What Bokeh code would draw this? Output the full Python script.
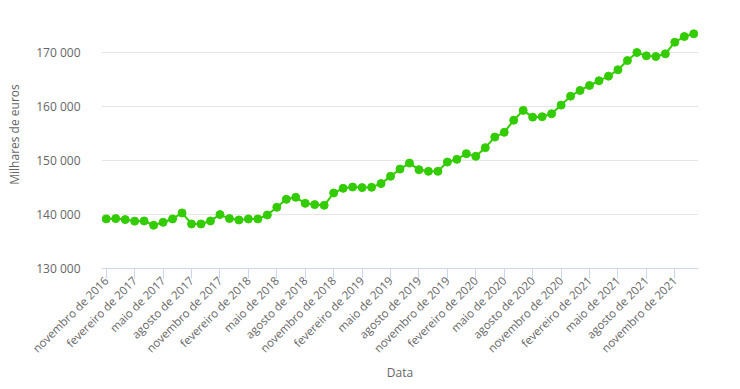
import math
from bokeh.plotting import figure
from bokeh.models import ColumnDataSource, FixedTicker, Range1d
from bokeh.embed import file_html
from bokeh.resources import INLINE

# Monthly series, novembro de 2016 .. janeiro de 2022 (milhares de euros)
values = [
    139200, 139250, 139070, 138780, 138820, 138020, 138570, 139190, 140300, 138260,
    138260, 138820, 140000, 139260, 139000, 139190, 139190, 139930, 141350, 142830,
    143200, 142080, 141850, 141720, 144000, 144870, 145110, 145000, 145060, 145740,
    147090, 148440, 149550, 148330, 148020, 148020, 149740, 150240, 151300, 150800,
    152410, 154370, 155250, 157500, 159320, 158070, 158150, 158700, 160300, 161960,
    163020, 163940, 164810, 165670, 166850, 168570, 170050, 169440, 169310, 169810,
    171960, 173020, 173520,
]
tick_labels = [
    "novembro de 2016", "fevereiro de 2017", "maio de 2017", "agosto de 2017",
    "novembro de 2017", "fevereiro de 2018", "maio de 2018", "agosto de 2018",
    "novembro de 2018", "fevereiro de 2019", "maio de 2019", "agosto de 2019",
    "novembro de 2019", "fevereiro de 2020", "maio de 2020", "agosto de 2020",
    "novembro de 2020", "fevereiro de 2021", "maio de 2021", "agosto de 2021",
    "novembro de 2021",
]
y_ticks = [130000, 140000, 150000, 160000, 170000, 180000]

idx = list(range(len(values)))
src = ColumnDataSource(data=dict(x=idx, y=values))

p = figure(width=740, height=389, output_backend="svg", toolbar_location=None,
           x_range=Range1d(-0.5, len(values) - 0.5), y_range=Range1d(130000, 179700),
           min_border_left=101, min_border_right=42, min_border_top=0, min_border_bottom=121)
p.outline_line_color = None
p.background_fill_color = "white"

p.line("x", "y", source=src, line_color="#33cc00", line_width=2)
p.scatter("x", "y", source=src, size=8, fill_color="#33cc00", line_color="#33cc00")

font = "Open Sans"
xt = list(range(0, len(values), 3))[:len(tick_labels)]
p.xaxis.ticker = FixedTicker(ticks=xt)
p.xaxis.major_label_overrides = {t: lab for t, lab in zip(xt, tick_labels)}
p.xaxis.major_label_orientation = math.pi / 4
p.xaxis.major_label_standoff = 0
p.xaxis.axis_line_color = "#ccd6eb"
p.xaxis.major_tick_line_color = "#ccd6eb"
p.xaxis.major_tick_out = 10
p.xaxis.major_tick_in = 0
p.xaxis.minor_tick_line_color = None
p.xaxis.axis_label = "Data"
p.xaxis.axis_label_standoff = 0

p.yaxis.ticker = FixedTicker(ticks=y_ticks)
p.yaxis.major_label_overrides = {t: f"{t:,}".replace(",", " ") for t in y_ticks}
p.yaxis.axis_line_color = None
p.yaxis.major_tick_line_color = None
p.yaxis.minor_tick_line_color = None
p.yaxis.major_label_standoff = 15
p.yaxis.axis_label = "Milhares de euros"
p.yaxis.axis_label_standoff = 10

for ax in (p.xaxis, p.yaxis):
    ax.major_label_text_font = font
    ax.major_label_text_color = "#666666"
    ax.axis_label_text_font = font
    ax.axis_label_text_font_size = "12px"
    ax.axis_label_text_font_style = "normal"
    ax.axis_label_text_color = "#666666"
p.xaxis.major_label_text_font_size = "11.5px"
p.yaxis.major_label_text_font_size = "12px"

p.xgrid.grid_line_color = None
p.ygrid.ticker = FixedTicker(ticks=y_ticks)
p.ygrid.grid_line_color = "#e6e6e6"

open("out.html", "w").write(file_html(p, INLINE))
